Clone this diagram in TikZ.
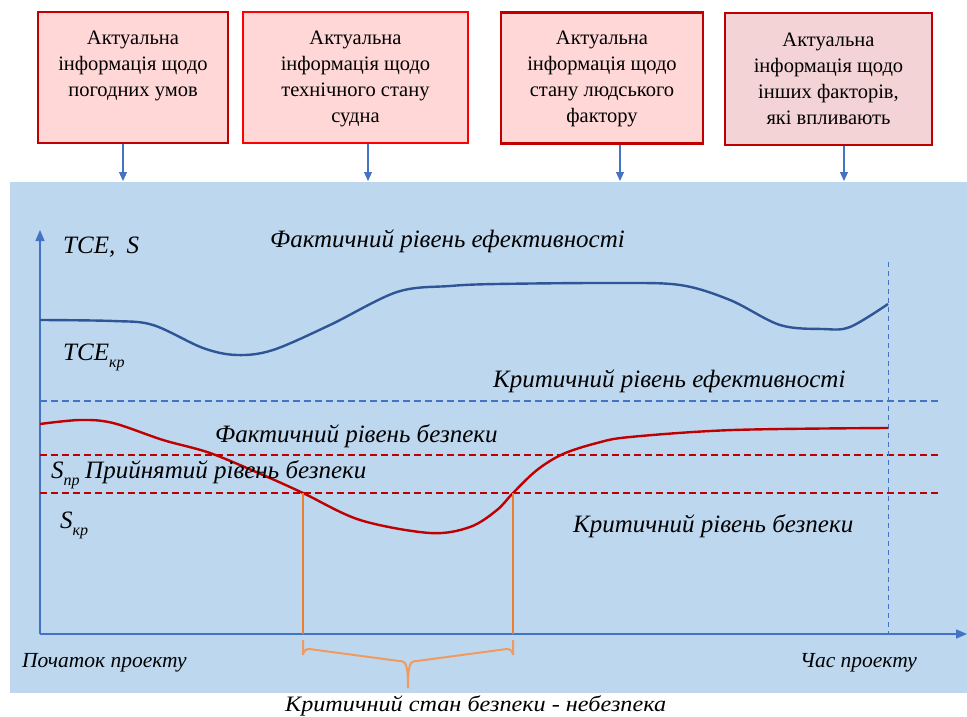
\documentclass[tikz,border=0pt]{standalone}
\usepackage{fontspec}
\setmainfont{Liberation Serif}
\usetikzlibrary{arrows.meta}
\definecolor{panelblue}{HTML}{BDD7EE}
\definecolor{boxpink}{HTML}{FFD7D7}
\definecolor{boxpinkb}{HTML}{F3D3D6}
\definecolor{darkred}{HTML}{C00000}
\definecolor{brightred}{HTML}{FF0000}
\definecolor{axisblue}{HTML}{4472C4}
\definecolor{curveblue}{HTML}{2F5597}
\definecolor{orangeline}{HTML}{ED7D31}
\definecolor{bracecol}{HTML}{F19A60}
\tikzset{
  infobox/.style={draw=darkred, fill=boxpink, line width=2.6pt, inner sep=0pt},
  boxtext/.style={anchor=north, inner sep=0pt, align=center, font=\fontsize{20.5}{26}\selectfont},
  feedarrow/.style={draw=axisblue, line width=1.1pt, -{Triangle[length=9pt,width=8pt]}},
  axisline/.style={draw=axisblue, line width=1.5pt, -{Triangle[length=11pt,width=9pt]}},
  effcurve/.style={draw=curveblue, line width=2.4pt},
  safecurve/.style={draw=darkred, line width=2.4pt},
  redlevel/.style={draw=darkred, line width=2pt, dash pattern=on 7pt off 4pt},
  bluelevel/.style={draw=axisblue, line width=1.8pt, dash pattern=on 7pt off 4pt},
  timeline/.style={draw=axisblue, line width=0.9pt, dash pattern=on 5pt off 4pt},
  orangev/.style={draw=orangeline, line width=1.3pt},
  bracestyle/.style={draw=bracecol, line width=2pt},
  lbl/.style={inner sep=0pt, anchor=base west, font=\fontsize{25}{28}\selectfont\itshape},
  sym/.style={inner sep=0pt, anchor=base west, font=\fontsize{25}{28}\selectfont\itshape},
  small/.style={inner sep=0pt, anchor=base west, font=\fontsize{21.5}{24}\selectfont\itshape}
}
\begin{document}
\begin{tikzpicture}[x=1pt,y=-1pt]
\useasboundingbox (0,0) rectangle (967,717);
% panel
\fill[panelblue] (10,182) rectangle (967,693);
% boxes
\node[infobox, minimum width=190pt, minimum height=131pt] (b1) at (133,77.5) {};
\node[infobox, draw=brightred, minimum width=225pt, minimum height=131pt] (b2) at (355.5,77.5) {};
\node[infobox, minimum width=202pt, minimum height=131pt] (b3) at (602,78) {};
\node[infobox, fill=boxpinkb, minimum width=207pt, minimum height=132pt] (b4) at (828.5,79) {};
\node[boxtext] (t1) at (133,31) {Актуальна\\інформація щодо\\погодних умов};
\node[boxtext] (t2) at (355.5,31) {Актуальна\\інформація щодо\\технічного стану\\судна};
\node[boxtext] (t3) at (602,31) {Актуальна\\інформація щодо\\стану людського\\фактору};
\node[boxtext] (t4) at (828.5,33) {Актуальна\\інформація щодо\\інших факторів,\\які впливають};
% feed arrows
\coordinate (a1) at (123,181);
\coordinate (a2) at (368,181);
\coordinate (a3) at (620,181);
\coordinate (a4) at (844,181);
\draw[feedarrow] (b1.south -| a1) -- (a1);
\draw[feedarrow] (b2.south -| a2) -- (a2);
\draw[feedarrow] (b3.south -| a3) -- (a3);
\draw[feedarrow] (b4.south -| a4) -- (a4);
% axes
\coordinate (O) at (40,634);
\coordinate (ytop) at (40,230);
\coordinate (xend) at (967,634);
\draw[axisline] (O) -- (ytop);
\draw[axisline] (O) -- (xend);
% levels
\coordinate (eL) at (40,401);  \coordinate (eR) at (938,401);
\coordinate (pL) at (40,455);  \coordinate (pR) at (940,455);
\coordinate (kL) at (40,493);  \coordinate (kR) at (940,493);
\draw[bluelevel] (eL) -- (eR);
\draw[redlevel] (pL) -- (pR);
\draw[redlevel] (kL) -- (kR);
% project time line
\coordinate (tT) at (888,262);
\coordinate (tB) at (888,634);
\draw[timeline] (tT) -- (tB);
% curves
\draw[effcurve] plot[smooth, tension=0.55] coordinates {(40,320) (113,321) (153,325) (203,348) (237,355) (273,350) (330,325) (397,292) (450,286) (497,284) (613,283) (680,285) (730,300) (780,325) (823,329) (850,327) (888,304)};
\draw[safecurve] plot[smooth, tension=0.55] coordinates {(40,424) (80,420) (113,423) (163,440) (210,453) (263,475) (303,493) (360,520) (430,533) (470,527) (497,510) (513,493) (537,470) (563,454) (597,443) (630,437) (733,430) (888,428)};
% critical interval
\coordinate (c1) at (303,493);
\coordinate (c2) at (513,493);
\coordinate (c1b) at (303,634);
\coordinate (c2b) at (513,634);
\draw[orangev] (c1) -- (c1b);
\draw[orangev] (c2) -- (c2b);
\coordinate (brL) at (303,640);
\coordinate (brR) at (513,640);
\coordinate (brT) at (408,688);
\draw[bracestyle] (brL) -- (303,655) arc[start angle=180, end angle=90, radius=6pt] -- (399,661) .. controls (406,661) and (408,664) .. (brT);
\draw[bracestyle] (brR) -- (513,655) arc[start angle=0, end angle=90, radius=6pt] -- (417,661) .. controls (410,661) and (408,664) .. (brT);
% labels
\node[sym] (ylab) at (63,253) {TCE,\hspace{0.45em}S};
\node[sym] (tcekr) at (63,360) {TCE\raisebox{-0.3em}{\fontsize{16}{17}\selectfont кр}};
\node[lbl] (feff) at (270,247) {Фактичний рівень ефективності};
\node[lbl] (keff) at (493,387) {Критичний рівень ефективності};
\node[lbl] (fsafe) at (215,442) {Фактичний рівень безпеки};
\node[sym] (spr) at (51,478) {S\raisebox{-0.3em}{\fontsize{16}{17}\selectfont пр}};
\node[lbl] (psafe) at (85,478) {Прийнятий рівень безпеки};
\node[sym] (skr) at (60,528) {S\raisebox{-0.3em}{\fontsize{16}{17}\selectfont кр}};
\node[lbl] (ksafe) at (573,532) {Критичний рівень безпеки};
\node[small] (start) at (22,667) {Початок проекту};
\node[small] (ptime) at (800,667) {Час проекту};
\node[small, font=\fontsize{22}{24}\selectfont\itshape] (danger) at (285,711) {\scalebox{1.1}[1]{Критичний стан безпеки - небезпека}};
\end{tikzpicture}
\end{document}
